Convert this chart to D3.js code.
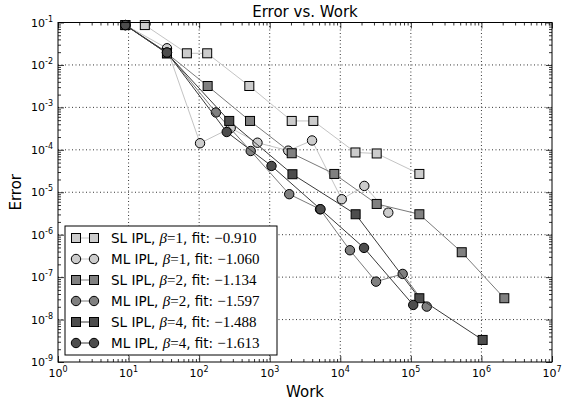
<!DOCTYPE html>
<html>
<head>
<meta charset="utf-8">
<script src="https://cdn.jsdelivr.net/npm/d3@7"></script>
<style>
  body { margin: 0; background: #fff; }
  text { font-family: "DejaVu Sans", sans-serif; }
</style>
</head>
<body>
<div id="chart"></div>
<script>
// values (work, error)
const workSL1 = [17, 67, 130, 514, 2050, 4150, 16400, 32800, 132000];
const errSL1  = [0.087, 0.0188, 0.0188, 3.19e-3, 4.79e-4, 4.79e-4, 8.66e-5, 8.2e-5, 2.7e-5];
const workML1 = [9, 35, 103, 280, 671, 1830, 3980, 10500, 21900, 47900];
const errML1  = [0.087, 0.0247, 1.43e-4, 3.27e-4, 1.47e-4, 9.55e-5, 1.66e-4, 6.84e-6, 1.41e-5, 3.31e-6];
const workSL2 = [9, 35, 132, 526, 2050, 8230, 32800, 132000, 526000, 2110000];
const errSL2  = [0.087, 0.0188, 3.19e-3, 4.79e-4, 8.3e-5, 2.7e-5, 5.3e-6, 3.03e-6, 3.86e-7, 3.18e-8];
const workML2 = [9, 35, 173, 538, 1890, 5160, 13700, 32100, 76600, 168000];
const errML2  = [0.087, 0.0196, 7.59e-4, 9.39e-5, 9.01e-6, 3.98e-6, 4.3e-7, 7.83e-8, 1.19e-7, 2.02e-8];
const workSL4 = [9, 35, 267, 2100, 16500, 132000, 1040000];
const errSL4  = [0.087, 0.0188, 4.79e-4, 2.66e-5, 3.03e-6, 3.18e-8, 3.31e-9];
const workML4 = [9, 35, 246, 1060, 5245, 21700, 108000];
const errML4  = [0.087, 0.0196, 2.63e-4, 4.17e-5, 3.98e-6, 4.88e-7, 2.21e-8];

const seriesNames = ["SL IPL", "ML IPL", "SL IPL", "ML IPL", "SL IPL", "ML IPL"];
const seriesBeta  = [1, 1, 2, 2, 4, 4];
const seriesFit   = ["\u22120.910", "\u22121.060", "\u22121.134", "\u22121.597", "\u22121.488", "\u22121.613"];
const xExponents  = [0, 1, 2, 3, 4, 5, 6, 7];
const yExponents  = [-9, -8, -7, -6, -5, -4, -3, -2, -1];

const series = [
  { work: workSL1, err: errSL1, shape: "square", fill: "#cccccc", line: "#c4c4c4" },
  { work: workML1, err: errML1, shape: "circle", fill: "#cccccc", line: "#c4c4c4" },
  { work: workSL2, err: errSL2, shape: "square", fill: "#808080", line: "#7a7a7a" },
  { work: workML2, err: errML2, shape: "circle", fill: "#808080", line: "#7a7a7a" },
  { work: workSL4, err: errSL4, shape: "square", fill: "#4d4d4d", line: "#3a3a3a" },
  { work: workML4, err: errML4, shape: "circle", fill: "#4d4d4d", line: "#3a3a3a" }
].map((s, i) => ({ ...s, name: seriesNames[i], beta: seriesBeta[i], fit: seriesFit[i],
  points: s.work.map((w, j) => ({ w, e: s.err[j] })) }));

const margin = { top: 22.5, right: 11, bottom: 42, left: 58 };
const width = 563 - margin.left - margin.right;
const height = 404 - margin.top - margin.bottom;

const svg = d3.select("#chart").append("svg")
    .attr("width", 563)
    .attr("height", 404)
  .append("g")
    .attr("transform", `translate(${margin.left}, ${margin.top})`);

const x = d3.scaleLog().domain([1, 1e7]).range([0, width]);
const y = d3.scaleLog().domain([1e-9, 1e-1]).range([height, 0]);

const xMajors = xExponents.map(k => Math.pow(10, k));
const yMajors = yExponents.map(k => Math.pow(10, k));
const minors = (lo, hi) => {
  const out = [];
  for (let k = lo; k < hi; k++) for (let m = 2; m <= 9; m++) out.push(m * Math.pow(10, k));
  return out;
};
const xMinors = minors(0, 7);
const yMinors = minors(-9, -1);

// dotted grid
svg.append("g").selectAll("line").data(xMajors.slice(1, -1)).enter().append("line")
  .attr("x1", d => x(d)).attr("x2", d => x(d)).attr("y1", 0).attr("y2", height)
  .attr("stroke", "#000").attr("stroke-width", 0.8).attr("stroke-dasharray", "1,2.5");
svg.append("g").selectAll("line").data(yMajors.slice(1, -1)).enter().append("line")
  .attr("y1", d => y(d)).attr("y2", d => y(d)).attr("x1", 0).attr("x2", width)
  .attr("stroke", "#000").attr("stroke-width", 0.8).attr("stroke-dasharray", "1,2.5");

// inward ticks on all four sides
const tickAxis = (axisFn, scale, values, size, transform) => {
  const g = svg.append("g").attr("transform", transform)
    .call(axisFn(scale).tickValues(values).tickSize(size).tickFormat(""));
  g.select(".domain").remove();
  g.selectAll("line").attr("stroke", "#000").attr("stroke-width", 0.8);
};
tickAxis(d3.axisBottom, x, xMajors, -6, `translate(0,${height})`);
tickAxis(d3.axisBottom, x, xMinors, -3, `translate(0,${height})`);
tickAxis(d3.axisTop, x, xMajors, -6, "translate(0,0)");
tickAxis(d3.axisTop, x, xMinors, -3, "translate(0,0)");
tickAxis(d3.axisLeft, y, yMajors, -6, "translate(0,0)");
tickAxis(d3.axisLeft, y, yMinors, -3, "translate(0,0)");
tickAxis(d3.axisRight, y, yMajors, -6, `translate(${width},0)`);
tickAxis(d3.axisRight, y, yMinors, -3, `translate(${width},0)`);

// tick labels 10^k
const xl = svg.append("g").selectAll("text").data(xExponents).enter().append("text")
  .attr("x", d => x(Math.pow(10, d)))
  .attr("y", height + 15)
  .attr("text-anchor", "middle")
  .style("font-size", "11px");
xl.append("tspan").text("10");
xl.append("tspan").attr("dy", -5).style("font-size", "8px").text(d => d);

const yl = svg.append("g").selectAll("text").data(yExponents).enter().append("text")
  .attr("x", -5)
  .attr("y", d => y(Math.pow(10, d)) + 4)
  .attr("text-anchor", "end")
  .style("font-size", "11px");
yl.append("tspan").text("10");
yl.append("tspan").attr("dy", -5).style("font-size", "8px").text(d => "-" + Math.abs(d));

// series
const line = d3.line().x(d => x(d.w)).y(d => y(d.e));
const drawMarker = (sel, shape, fill) => {
  if (shape === "square") {
    sel.append("rect").attr("x", -4.5).attr("y", -4.5).attr("width", 9).attr("height", 9)
      .attr("fill", fill).attr("stroke", "#000").attr("stroke-width", 1);
  } else {
    sel.append("circle").attr("r", 4.7)
      .attr("fill", fill).attr("stroke", "#000").attr("stroke-width", 1);
  }
};

series.forEach(s => {
  svg.append("path").datum(s.points)
    .attr("fill", "none").attr("stroke", s.line).attr("stroke-width", 1)
    .attr("d", line);
  svg.append("g").selectAll("g").data(s.points).enter().append("g")
    .attr("transform", d => `translate(${x(d.w)},${y(d.e)})`)
    .each(function () { drawMarker(d3.select(this), s.shape, s.fill); });
});

// frame
svg.append("rect").attr("width", width).attr("height", height)
  .attr("fill", "none").attr("stroke", "#000").attr("stroke-width", 1);

// legend
const legend = svg.append("g").attr("transform", "translate(7, 203.5)");
legend.append("rect").attr("width", 212).attr("height", 129)
  .attr("fill", "#fff").attr("stroke", "#000").attr("stroke-width", 1);
series.forEach((s, i) => {
  const row = legend.append("g").attr("transform", `translate(0, ${12 + i * 21})`);
  row.append("line").attr("x1", 11).attr("x2", 29).attr("stroke", s.line).attr("stroke-width", 1);
  drawMarker(row.append("g").attr("transform", "translate(11,0)"), s.shape, s.fill);
  drawMarker(row.append("g").attr("transform", "translate(29,0)"), s.shape, s.fill);
  const t = row.append("text").attr("x", 46).attr("y", 5).style("font-size", "13.5px");
  t.append("tspan").text(s.name + ", ");
  t.append("tspan").style("font-family", "'Liberation Serif', serif").style("font-style", "italic")
    .style("font-size", "15px").text("\u03b2");
  t.append("tspan").style("font-family", "'Liberation Serif', serif").style("font-size", "15px")
    .text("=" + s.beta);
  t.append("tspan").text(", fit: ");
  t.append("tspan").style("font-family", "'Liberation Serif', serif").style("font-size", "15px")
    .text(s.fit);
});

// titles
svg.append("text").attr("x", width / 2).attr("y", -6).attr("text-anchor", "middle")
  .style("font-size", "15px").text("Error vs. Work");
svg.append("text").attr("x", width / 2).attr("y", height + 35).attr("text-anchor", "middle")
  .style("font-size", "15px").text("Work");
svg.append("text").attr("transform", "rotate(-90)")
  .attr("x", -height / 2).attr("y", -37).attr("text-anchor", "middle")
  .style("font-size", "15px").text("Error");
</script>
</body>
</html>
